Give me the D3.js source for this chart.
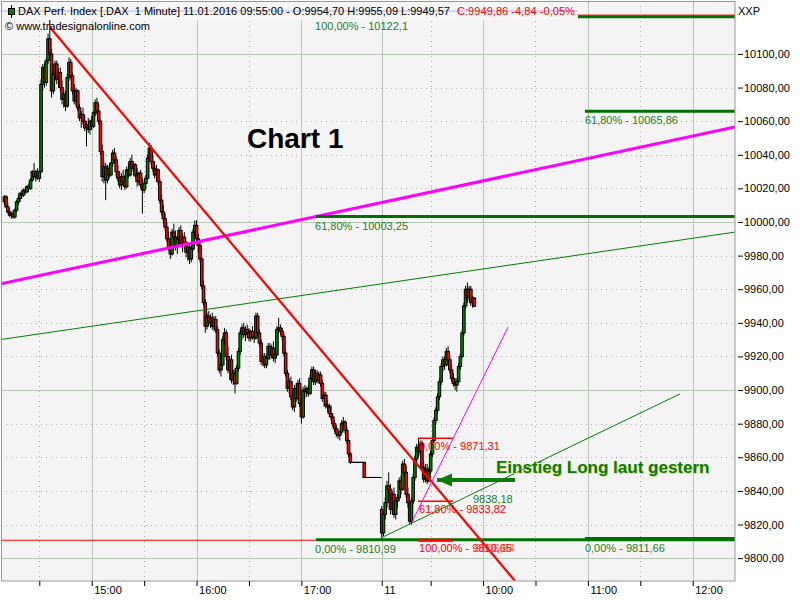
<!DOCTYPE html>
<html><head><meta charset="utf-8">
<script src="https://cdn.jsdelivr.net/npm/d3@7"></script>
<style>body{margin:0;background:#fff}svg{display:block}</style>
</head><body>
<svg id="c" width="800" height="600"></svg>
<script>
// ---- DATA (1-minute bars, [open, high, low, close]) ----
// 08.01.2016 from 14:10 (index 0) to 17:45
const barsDay1 = [
[10012,10016,10010,10015],[10015,10016,10008,10009],[10009,10011,10005,10006],[10006,10008,10003,10004],[10004,10006,10002,10005],
[10005,10007,10002,10003],[10003,10008,10002,10007],[10007,10013,10006,10012],[10012,10016,10010,10014],[10014,10018,10012,10017],
[10017,10019,10014,10016],[10016,10020,10015,10019],[10019,10021,10017,10018],[10018,10022,10017,10021],[10021,10023,10019,10020],
[10020,10026,10019,10025],[10025,10031,10024,10030],[10030,10035,10026,10027],[10027,10031,10024,10030],[10030,10032,10025,10026],
[10026,10031,10024,10030],[10030,10085,10029,10082],[10082,10094,10078,10092],[10092,10095,10080,10083],[10083,10098,10081,10096],
[10096,10112,10094,10109],[10109,10122.1,10098,10100],[10100,10103,10074,10078],[10078,10090,10076,10088],[10088,10096,10084,10094],
[10094,10096,10082,10085],[10085,10091,10080,10089],[10089,10092,10078,10080],[10080,10084,10070,10073],[10073,10079,10068,10076],
[10076,10078,10066,10069],[10069,10088,10068,10086],[10086,10098,10084,10095],[10095,10097,10085,10087],[10087,10089,10076,10078],
[10078,10082,10070,10072],[10072,10080,10069,10078],[10078,10079,10066,10068],[10068,10070,10060,10062],[10062,10066,10056,10064],
[10064,10068,10058,10060],[10060,10063,10054,10056],[10056,10060,10045,10058],[10058,10062,10053,10055],[10055,10061,10052,10060],
[10060,10063,10055,10057],[10057,10066,10056,10065],[10065,10073,10063,10071],[10071,10074,10064,10066],[10066,10070,10058,10060],
[10060,10061,10040,10042],[10042,10046,10024,10027],[10027,10036,10023,10033],[10033,10035,10013,10025],[10025,10034,10023,10032],
[10032,10034,10026,10028],[10028,10036,10027,10035],[10035,10043,10033,10041],[10041,10044,10035,10037],[10037,10039,10027,10030],
[10030,10034,10024,10026],[10026,10030,10020,10022],[10022,10029,10019,10027],[10027,10031,10022,10024],[10024,10028,10019,10021],
[10021,10033,10020,10031],[10031,10035,10026,10028],[10028,10038,10027,10036],[10036,10040,10030,10032],[10032,10036,10027,10034],
[10034,10035,10026,10028],[10028,10032,10021,10024],[10024,10030,10022,10029],[10029,10031,10020,10022],[10022,10026,10005,10019],
[10019,10025,10017,10023],[10023,10028,10020,10026],[10026,10040,10025,10038],[10038,10047,10036,10044],[10044,10046,10034,10036],
[10036,10040,10030,10032],[10032,10036,10026,10028],[10028,10034,10024,10031],[10031,10032,10022,10024],[10024,10026,10011,10013],
[10013,10016,10004,10006],[10006,10010,9999,10002],[10002,10005,9995,9997],[9997,10000,9988,9990],[9990,9994,9983,9985],
[9985,9990,9978,9981],[9981,9996,9980,9994],[9994,9999,9989,9991],[9991,9995,9983,9986],[9986,9992,9981,9990],
[9990,9997,9988,9995],[9995,9998,9985,9987],[9987,9993,9982,9991],[9991,9994,9984,9986],[9986,9989,9979,9982],
[9982,9988,9977,9985],[9985,9987,9975,9978],[9978,9986,9976,9984],[9984,9996,9983,9994],[9994,10001,9991,9998],
[9998,10001,9988,9990],[9990,9993,9982,9986],[9986,9989,9976,9978],[9978,9980,9960,9962],[9962,9965,9950,9952],
[9952,9954,9934,9938],[9938,9946,9936,9944],[9944,9947,9938,9940],[9940,9945,9937,9943],[9943,9946,9936,9938],
[9938,9944,9935,9942],[9942,9944,9934,9936],[9936,9938,9920,9922],[9922,9924,9910,9912],[9912,9917,9908,9915],
[9915,9932,9914,9930],[9930,9937,9927,9934],[9934,9936,9918,9920],[9920,9926,9910,9912],[9912,9920,9906,9918],
[9918,9921,9904,9906],[9906,9912,9903,9910],[9910,9913,9898,9904],[9904,9915,9903,9913],[9913,9925,9911,9923],
[9923,9936,9921,9934],[9934,9939,9930,9937],[9937,9940,9931,9933],[9933,9938,9929,9936],[9936,9939,9931,9934],
[9934,9937,9929,9931],[9931,9936,9929,9935],[9935,9938,9930,9932],[9932,9935,9928,9931],[9931,9946,9930,9944],
[9944,9946,9932,9934],[9934,9936,9926,9928],[9928,9930,9915,9917],[9917,9922,9914,9920],[9920,9922,9913,9915],
[9915,9921,9913,9919],[9919,9928,9918,9926],[9926,9928,9918,9921],[9921,9927,9919,9925],[9925,9929,9917,9919],
[9919,9922,9916,9921],[9921,9938,9920,9936],[9936,9943,9934,9937],[9937,9939,9933,9935],[9935,9937,9930,9932],
[9932,9934,9920,9922],[9922,9924,9908,9910],[9910,9912,9899,9901],[9901,9907,9898,9905],[9905,9908,9894,9896],
[9896,9900,9888,9890],[9890,9903,9887,9901],[9901,9904,9893,9895],[9895,9906,9894,9904],[9904,9907,9890,9892],
[9892,9895,9880,9884],[9884,9902,9883,9900],[9900,9903,9895,9899],[9899,9902,9896,9901],[9901,9903,9896,9898],
[9898,9909,9897,9907],[9907,9914,9905,9912],[9912,9914,9903,9905],[9905,9912,9903,9910],[9910,9912,9904,9906],
[9906,9911,9904,9909],[9909,9911,9902,9904],[9904,9906,9893,9895],[9895,9899,9890,9897],[9897,9899,9889,9891],
[9891,9894,9887,9890],[9890,9892,9884,9886],[9886,9891,9882,9884],[9884,9886,9878,9880],[9880,9882,9875,9877],
[9877,9879,9872,9874],[9874,9877,9871,9873],[9873,9876,9870,9875],[9875,9882,9874,9880],[9880,9884,9878,9881],
[9881,9882,9874,9876],[9876,9878,9868,9870],[9870,9871,9860,9862],[9862,9863,9856,9857],[9857,9857,9857,9857],
[9857,9857,9857,9857],[9857,9857,9857,9857],[9857,9857,9857,9857],[9857,9857,9857,9857],[9857,9857,9857,9857],
[9857,9857,9857,9857],[9857,9857,9848,9848],[9848,9848,9848,9848],[9848,9848,9848,9848],[9848,9848,9848,9848],
[9848,9848,9848,9848],[9848,9848,9848,9848],[9848,9848,9848,9848],[9848,9848,9848,9848],[9848,9848,9848,9848],
[9848,9848,9848,9848]
];
// 11.01.2016 from 09:00 to 09:55
const barsDay2 = [
[9829,9831,9811,9815],[9815,9828,9813,9826],[9826,9836,9823,9833],[9833,9846,9830,9843],[9843,9851,9838,9841],
[9841,9844,9826,9829],[9829,9840,9826,9838],[9838,9842,9824,9826],[9826,9836,9823,9834],[9834,9838,9830,9836],
[9836,9848,9834,9846],[9846,9849,9838,9841],[9841,9858,9840,9856],[9856,9859,9848,9851],[9851,9855,9836,9838],
[9838,9842,9830,9833],[9833,9835,9820,9822],[9822,9836,9820,9834],[9834,9850,9832,9848],[9848,9861,9846,9859],
[9859,9868,9856,9866],[9866,9871,9860,9863],[9863,9870,9861,9868],[9868,9870,9852,9854],[9854,9858,9845,9847],
[9847,9856,9845,9853],[9853,9856,9844,9846],[9846,9854,9845,9852],[9852,9864,9850,9862],[9862,9872,9860,9870],
[9870,9884,9869,9882],[9882,9890,9880,9888],[9888,9898,9886,9896],[9896,9907,9894,9905],[9905,9916,9903,9914],
[9914,9920,9911,9918],[9918,9920,9912,9915],[9915,9925,9914,9923],[9923,9926,9916,9918],[9918,9920,9910,9912],
[9912,9915,9905,9907],[9907,9910,9902,9904],[9904,9907,9900,9903],[9903,9907,9899,9905],[9905,9916,9904,9914],
[9914,9922,9912,9920],[9920,9936,9919,9934],[9934,9952,9932,9950],[9950,9962,9948,9960],[9960,9964,9952,9955],
[9955,9962,9953,9960],[9960,9962,9950,9952],[9952,9956,9949,9955],[9954.70,9955.09,9949.57,9949.86]
];
const yTickValues = [9800,9820,9840,9860,9880,9900,9920,9940,9960,9980,10000,10020,10040,10060,10080,10100];
const yMajorValues = [9800,9900,10000,10100];
const timeTickIndex = [20,50,80,110,140,170,216,244,274,304,334,364,394];
const timeTickLabels = ["","15:00","","16:00","","17:00","11","","10:00","","11:00","","12:00"];
const timeTickMajor = [false,true,false,true,false,true,true,false,true,false,true,false,true];

// Fibonacci retracement tools
const fibALevels = [10122.1, 10003.25, 9810.99];
const fibALabels = ["100,00% - 10122,1", "61,80% - 10003,25", "0,00% - 9810,99"];
const fibARange = [178.4, 418.2];
const fibBLevels = [9871.31, 9833.82, 9810.65];
const fibBLabels = ["0,00% - 9871,31", "61,80% - 9833,82", "100,00% - 9810,65"];
const fibBRange = [236.8, 256.8];
const fibCLevels = [10065.86, 9811.66];
const fibCLabels = ["61,80% - 10065,86", "0,00% - 9811,66"];
const fibCRange = [332.3, 418.2];

// trend lines [index, value]
const redTrend = [[26, 10116], [292.3, 9786.4]];
const magentaTrend = [[-2.5, 9963.1], [418.2, 10056.5]];
const greenTrendLong = [[-2.5, 9930], [418.2, 9994]];
const magentaThin = [[233.3, 9821.5], [288.3, 9937.5]];
const greenThin = [[216.7, 9812.6], [386.7, 9897.7]];
const arrowLine = [[292.3, 9846.5], [247.6, 9846.5]];
const redLevelLine = [[-2.5, 9810.65], [346.6, 9810.65]];
const redTopLine = [[178.4, 10123.1], [418.2, 10123.1]];

const headerBlack = "DAX Perf. Index [.DAX\u00a0\u00a01 Minute] 11.01.2016 09:55:00 - O:9954,70 H:9955,09 L:9949,57";
const headerRed = "C:9949,86 -4,84 -0,05%";

// ---- DRAW ----
const svg = d3.select("#c");
const FONT = "'Liberation Sans', Arial, sans-serif";
const loc = d3.formatLocale({decimal: ",", thousands: ".", grouping: [3], currency: ["", "€"]});
const f2 = loc.format(".2f");

const x = d3.scaleLinear().domain([-2.5, 418.2]).range([0, 735]);
const y = d3.scaleLinear().domain([9786.4, 10130.9]).range([581, 2]);

svg.append("rect").attr("width", 800).attr("height", 600).attr("fill", "#fff");
svg.append("defs").append("clipPath").attr("id", "pc")
  .append("rect").attr("x", 1).attr("y", 1).attr("width", 734).attr("height", 580);
svg.append("rect").attr("x", 1).attr("y", 1).attr("width", 734).attr("height", 580)
  .attr("fill", "#f4f4f4");

const plot = svg.append("g").attr("clip-path", "url(#pc)");
const GRID = "#b5c8b5";

// horizontal grid
plot.selectAll("line.hg").data(yTickValues).enter().append("line")
  .attr("x1", 1).attr("x2", 735)
  .attr("y1", d => Math.round(y(d)) + 0.5).attr("y2", d => Math.round(y(d)) + 0.5)
  .attr("stroke", d => yMajorValues.includes(d) ? GRID : "#a8a8a8")
  .attr("stroke-width", 1)
  .attr("stroke-dasharray", d => yMajorValues.includes(d) ? null : "1,4");
// vertical grid
plot.selectAll("line.vg").data(timeTickIndex).enter().append("line")
  .attr("x1", d => Math.round(x(d)) + 0.5).attr("x2", d => Math.round(x(d)) + 0.5)
  .attr("y1", 1).attr("y2", 581)
  .attr("stroke", (d, k) => timeTickMajor[k] ? GRID : "#a8a8a8")
  .attr("stroke-dasharray", (d, k) => timeTickMajor[k] ? null : "1,4");

// candles
const bars = barsDay1.concat(barsDay2).map((b, i) => ({i, o: b[0], h: b[1], l: b[2], c: b[3]}));
const cg = plot.append("g");
const bw = 2.6;
bars.forEach(b => {
  const cx = x(b.i);
  cg.append("line").attr("x1", cx).attr("x2", cx).attr("y1", y(b.h)).attr("y2", y(b.l))
    .attr("stroke", "#000").attr("stroke-width", 1);
  const top = y(Math.max(b.o, b.c)), bot = y(Math.min(b.o, b.c));
  cg.append("rect").attr("x", cx - bw / 2).attr("y", top).attr("width", bw)
    .attr("height", Math.max(0.01, bot - top))
    .attr("fill", b.c >= b.o ? "#008000" : "#ff0000")
    .attr("stroke", "#000").attr("stroke-width", 1);
});

const line = d3.line().x(d => x(d[0])).y(d => y(d[1]));
function seg(data, color, width) {
  plot.append("path").attr("d", line(data)).attr("fill", "none")
    .attr("stroke", color).attr("stroke-width", width);
}
seg(greenTrendLong, "#008000", 1);
seg(magentaTrend, "#ff00ff", 3);
seg(redLevelLine, "#ff0000", 1);
seg(redTopLine, "#ff0000", 1);

fibALevels.forEach(v => seg([[fibARange[0], v], [fibARange[1], v]], "#007000", 3));
fibCLevels.forEach(v => seg([[fibCRange[0], v], [fibCRange[1], v]], "#007000", 3));
fibBLevels.forEach((v, k) => seg([[fibBRange[0], v], [fibBRange[1], v]], "#ff0000", k === 2 ? 3 : 1.5));

seg(redTrend, "#ff0000", 2.2);
seg(magentaThin, "#ff00ff", 1);
seg(greenThin, "#008000", 1);

// arrow
seg(arrowLine, "#0a7a0a", 4);
const ax = x(arrowLine[1][0]), ay = y(arrowLine[1][1]);
plot.append("path")
  .attr("d", `M${ax},${ay} L${ax + 15},${ay - 6.5} L${ax + 15},${ay + 6.5} Z`)
  .attr("fill", "#0a7a0a");

// labels
function label(txt, px, py, color, size, weight) {
  return svg.append("text").attr("x", px).attr("y", py).text(txt)
    .attr("fill", color).attr("font-family", FONT)
    .attr("font-size", size || 11).attr("font-weight", weight || "normal");
}
const GTXT = "#1f7f1f";
fibALevels.forEach((v, k) => label(fibALabels[k], x(fibARange[0]) - 1, y(v) + 13, GTXT));
fibCLevels.forEach((v, k) => label(fibCLabels[k], x(fibCRange[0]), y(v) + 13, GTXT));
fibBLevels.forEach((v, k) => label(fibBLabels[k], x(fibBRange[0]) + 1, y(v) + 12, "#ff0000"));
label("9806,84", x(fibBRange[0]) + 57, y(fibBLevels[2]) + 12, "#ff3030").attr("opacity", 0.8);
label("9838,18", x(268.2), y(greenThin[0][1]) - 34, GTXT);
label("9895,53", x(268.2), y(magentaThin[0][1]) + 115, "#ff00ff");

label("Einstieg Long laut gestern", 497, 474, "#e0e070", 17, "bold");
label("Einstieg Long laut gestern", 496, 473, "#0a7a0a", 17, "bold");
label("Chart 1", 247, 148, "#000", 28, "bold");

// border
svg.append("rect").attr("x", 1.5).attr("y", 1.5).attr("width", 733.5).attr("height", 579.5)
  .attr("fill", "none").attr("stroke", "#9a9a9a").attr("stroke-width", 1);

// header
svg.append("rect").attr("x", 2).attr("y", 2).attr("width", 576).attr("height", 18).attr("fill", "#f6f6f6");
svg.append("line").attr("x1", 2).attr("x2", 578).attr("y1", 11).attr("y2", 11)
  .attr("stroke", "#c4c8f2").attr("stroke-width", 1.5);
svg.append("line").attr("x1", 11.5).attr("x2", 11.5).attr("y1", 5).attr("y2", 18).attr("stroke", "#000");
svg.append("rect").attr("x", 8.5).attr("y", 8.5).attr("width", 6).attr("height", 6)
  .attr("fill", "#008000").attr("stroke", "#000");
label(headerBlack, 18, 15, "#000", 11.5).attr("textLength", 432).attr("lengthAdjust", "spacingAndGlyphs");
label(headerRed, 457, 15, "#ff0000", 11.5).attr("textLength", 118).attr("lengthAdjust", "spacingAndGlyphs");
label("© www.tradesignalonline.com", 5, 30, "#000", 11.5).attr("textLength", 145).attr("lengthAdjust", "spacingAndGlyphs");

// right axis
const yAxis = d3.axisRight(y).tickValues(yTickValues).tickSize(5).tickPadding(1).tickFormat(f2);
const ya = svg.append("g").attr("transform", "translate(738,0)").call(yAxis);
ya.select(".domain").remove();
ya.selectAll("text").attr("font-family", FONT).attr("font-size", 11).attr("fill", "#000");
ya.selectAll("line").attr("stroke", "#000");
label("XXP", 738, 15, "#000", 11);

// bottom axis
const xAxis = d3.axisBottom(x).tickValues(timeTickIndex).tickSize(5).tickPadding(0)
  .tickFormat((d, k) => timeTickLabels[k]);
const xa = svg.append("g").attr("transform", "translate(0,581)").call(xAxis);
xa.select(".domain").remove();
xa.selectAll("text").attr("font-family", FONT).attr("font-size", 11).attr("fill", "#000")
  .attr("text-anchor", "start").attr("dx", 2);
xa.selectAll("line").attr("stroke", "#000");
</script>
</body></html>
